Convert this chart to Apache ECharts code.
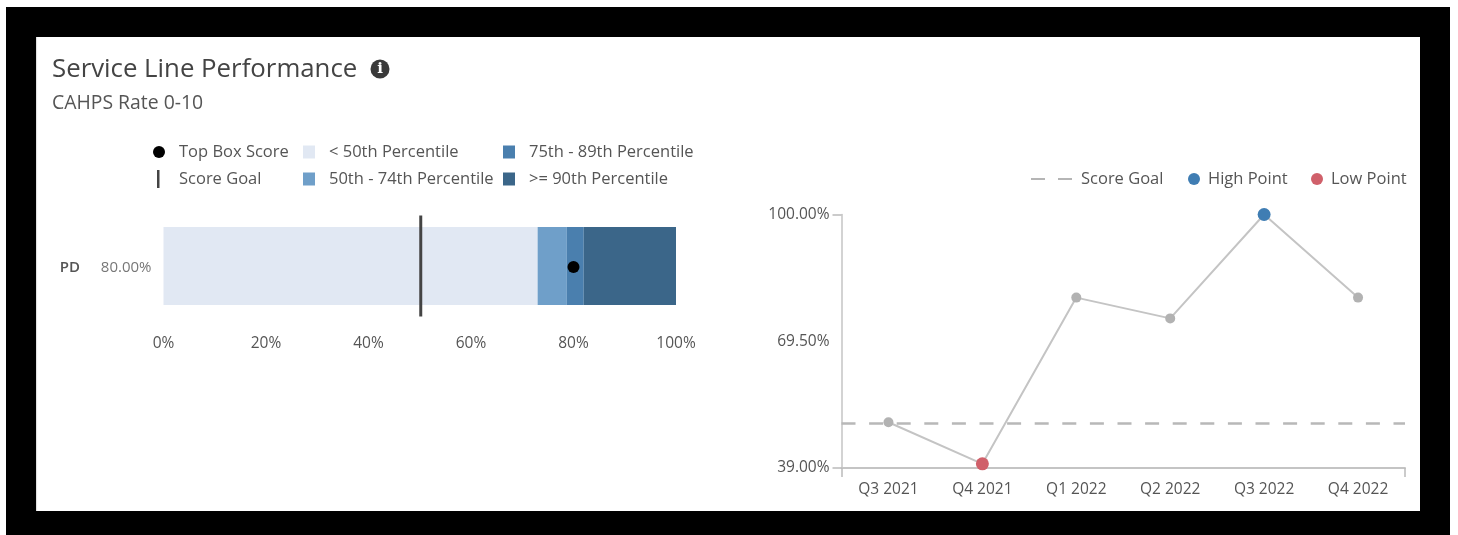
<!DOCTYPE html>
<html>
<head>
<meta charset="utf-8">
<style>
html,body{margin:0;padding:0;background:#fff;width:1458px;height:535px;overflow:hidden}
#frame{position:absolute;left:6px;top:7px;width:1444px;height:528px;background:#000}
#card{position:absolute;left:36px;top:37px;width:1383.5px;height:474px;background:#fff;box-shadow:inset 2px 0 1px -1px #ddd}
#main{position:absolute;left:0;top:0;width:1458px;height:535px;filter:blur(0.45px)}
</style>
<script src="https://cdn.jsdelivr.net/npm/echarts@6/dist/echarts.min.js"></script>
</head>
<body>
<div id="frame"></div>
<div id="card"></div>
<div id="main"></div>
<script>
// Bullet chart data
const bulletCategories = ['PD'];
const bulletScoreLabels = ['80.00%'];
const bandBelow50 = [73];
const band50to74 = [5.7];
const band75to89 = [3.3];
const band90plus = [18];
const topBoxScore = [80];
const scoreGoalBullet = [50];
const bulletTicks = [0, 20, 40, 60, 80, 100];

// Trend chart data
const quarters = ['Q3 2021', 'Q4 2021', 'Q1 2022', 'Q2 2022', 'Q3 2022', 'Q4 2022'];
const trendValues = [50, 40, 80, 75, 100, 80];
const trendGoal = 49.7;
const trendLabelValues = [39, 69.5, 100];
const trendTickValues = [39, 100];

const FONT = '"Open Sans"';
const TXT = '#555';
const C0 = '#e1e8f3', C1 = '#6f9fc9', C2 = '#4a7fae', C3 = '#3b6689';
const HIGH = '#3f7db3', LOW = '#d0606a', GRAY = '#b2b2b2';

const hi = trendValues.indexOf(Math.max(...trendValues));
const lo = trendValues.indexOf(Math.min(...trendValues));

function leg(name, x, cy, icon, w, h, pad) {
  return {
    data: [{ name, icon }], left: x, top: cy - Math.max(h, 20) / 2, itemWidth: w, itemHeight: h, padding: 0, itemGap: 0,
    selectedMode: false,
    textStyle: { fontFamily: FONT, fontSize: 16.5, lineHeight: 20, color: TXT, padding: [2, 0, 0, pad] }
  };
}

const chart = echarts.init(document.getElementById('main'), null, { renderer: 'canvas' });
chart.setOption({
  animation: false,
  backgroundColor: 'transparent',
  title: [
    { text: 'Service Line Performance', left: 52, top: 57, padding: 0,
      textStyle: { fontFamily: FONT, fontSize: 25.8, fontWeight: 'normal', color: '#444' } },
    { text: 'CAHPS Rate 0-10', left: 52, top: 94, padding: 0,
      textStyle: { fontFamily: FONT, fontSize: 19.4, fontWeight: 'normal', color: TXT } }
  ],
  graphic: [
    { type: 'circle', shape: { cx: 380, cy: 69, r: 9.5 }, style: { fill: '#3a3a3a' } },
    { type: 'text', x: 380, y: 69, style: { text: 'i', fill: '#fff', font: 'bold 15px "DejaVu Serif"', align: 'center', verticalAlign: 'middle' } }
  ],
  legend: [
    leg('Top Box Score', 153, 151, 'circle', 12, 12, 9),
    leg('Score Goal ', 157, 178, 'rect', 2.5, 18, 14.5),
    leg('< 50th Percentile', 303, 151, 'rect', 12, 13, 9),
    leg('50th - 74th Percentile', 303, 178, 'rect', 12, 13, 9),
    leg('75th - 89th Percentile', 503, 151, 'rect', 12, 13, 9),
    leg('>= 90th Percentile', 503, 178, 'rect', 12, 13, 9),
    leg('Score Goal', 1031, 178, 'path://M0 0H14V2H0Z M27 0H41V2H27Z', 41, 2, 4),
    leg('High Point', 1188, 178, 'circle', 12, 12, 3),
    leg('Low Point', 1311, 178, 'circle', 12, 12, 3)
  ],
  grid: [
    { left: 163.5, top: 227, width: 512.5, height: 78 },
    { left: 841.5, top: 214.5, width: 563.5, height: 253.5 }
  ],
  xAxis: [
    { type: 'value', gridIndex: 0, min: 0, max: 100, interval: 20,
      axisLine: { show: false }, axisTick: { show: false }, splitLine: { show: false },
      axisLabel: { margin: 31, fontFamily: FONT, fontSize: 15.5, color: TXT,
        customValues: bulletTicks, formatter: v => v + '%' } },
    { type: 'category', gridIndex: 1, data: quarters, boundaryGap: true,
      axisLine: { show: true, lineStyle: { color: '#c4c4c4', width: 2 } },
      axisTick: { show: true, length: 9, lineStyle: { color: '#bbb', width: 1.5 },
        interval: i => i === 0 || i === quarters.length },
      axisLabel: { margin: 14, fontFamily: FONT, fontSize: 15.5, color: TXT } }
  ],
  yAxis: [
    { type: 'category', gridIndex: 0, data: bulletCategories,
      axisLine: { show: false }, axisTick: { show: false },
      axisLabel: { margin: 12, padding: [3, 0, 0, 0], formatter: (v, i) => '{a|' + v + '}{b|' + bulletScoreLabels[i] + '}',
        rich: {
          a: { fontFamily: FONT, fontSize: 15, fontWeight: 600, color: '#555', width: 41, align: 'left' },
          b: { fontFamily: FONT, fontSize: 15, color: '#777', align: 'right' }
        } } },
    { type: 'value', gridIndex: 1, min: 39, max: 100,
      splitLine: { show: false },
      axisLine: { show: true, lineStyle: { color: '#c4c4c4', width: 1.5 } },
      axisTick: { show: true, length: 9, lineStyle: { color: '#bbb', width: 1.5 }, customValues: trendTickValues },
      axisLabel: { margin: 12, padding: [2, 0, 0, 0], fontFamily: FONT, fontSize: 15.5, color: TXT,
        customValues: trendLabelValues, formatter: v => v.toFixed(2) + '%' } }
  ],
  series: [
    { name: '< 50th Percentile', type: 'bar', stack: 'b', barWidth: 78, data: bandBelow50, itemStyle: { color: C0 }, xAxisIndex: 0, yAxisIndex: 0 },
    { name: '50th - 74th Percentile', type: 'bar', stack: 'b', data: band50to74, itemStyle: { color: C1 }, xAxisIndex: 0, yAxisIndex: 0 },
    { name: '75th - 89th Percentile', type: 'bar', stack: 'b', data: band75to89, itemStyle: { color: C2 }, xAxisIndex: 0, yAxisIndex: 0 },
    { name: '>= 90th Percentile', type: 'bar', stack: 'b', data: band90plus, itemStyle: { color: C3 }, xAxisIndex: 0, yAxisIndex: 0 },
    { name: 'Score Goal ', type: 'scatter', symbol: 'rect', symbolSize: [3, 101], symbolOffset: [1, 0], z: 5,
      data: scoreGoalBullet.map((v, i) => [v, bulletCategories[i]]), itemStyle: { color: '#444', opacity: 1 }, xAxisIndex: 0, yAxisIndex: 0 },
    { name: 'Top Box Score', type: 'scatter', symbolSize: 12, symbolOffset: [0, 1], z: 6,
      data: topBoxScore.map((v, i) => [v, bulletCategories[i]]), itemStyle: { color: '#000', opacity: 1 }, xAxisIndex: 0, yAxisIndex: 0 },

    { name: 'Score Goal', type: 'line', xAxisIndex: 1, yAxisIndex: 1, data: [], symbol: 'none',
      itemStyle: { color: '#b5b5b5' }, lineStyle: { color: '#b5b5b5' },
      markLine: { silent: true, symbol: 'none', label: { show: false },
        lineStyle: { color: '#b8b8b8', type: [14, 13.6], width: 2.5 }, data: [{ yAxis: trendGoal }] } },
    { name: 'Trend', type: 'line', xAxisIndex: 1, yAxisIndex: 1, data: trendValues,
      symbol: 'circle', symbolSize: 10, clip: false,
      lineStyle: { color: '#c4c4c4', width: 2 }, itemStyle: { color: GRAY } },
    { name: 'High Point', type: 'scatter', xAxisIndex: 1, yAxisIndex: 1, symbolSize: 13, z: 6, clip: false,
      data: [[quarters[hi], trendValues[hi]]], itemStyle: { color: HIGH, opacity: 1 } },
    { name: 'Low Point', type: 'scatter', xAxisIndex: 1, yAxisIndex: 1, symbolSize: 13, z: 6, clip: false,
      data: [[quarters[lo], trendValues[lo]]], itemStyle: { color: LOW, opacity: 1 } }
  ]
});
</script>
</body>
</html>
